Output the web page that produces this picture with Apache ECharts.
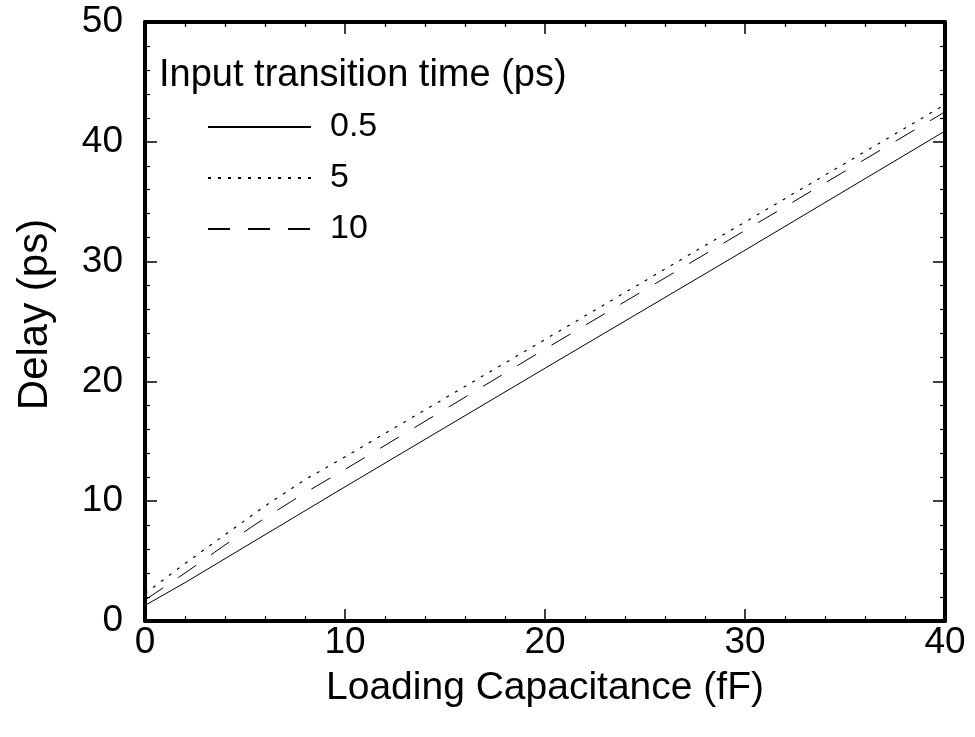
<!DOCTYPE html>
<html>
<head>
<meta charset="utf-8">
<script src="https://cdn.jsdelivr.net/npm/echarts@6/dist/echarts.min.js"></script>
<style>
  html, body { margin: 0; padding: 0; background: #fff; }
  #chart { width: 975px; height: 737px; }
</style>
</head>
<body>
<div id="chart"></div>
<script>
// loading capacitance (fF)
var capacitance = [0, 2, 4, 6, 8, 10, 20, 30, 40]
// delay (ps) for each input transition time
var delay05 = [1.3, 3.2, 5.2, 7.2, 9.2, 11.2, 21.1, 30.95, 40.9]
var delay5 = [2.3, 4.8, 7.2, 9.6, 11.8, 13.7, 23.5, 33.3, 43.1]
var delay10 = [1.75, 4.0, 6.35, 8.6, 10.7, 12.65, 22.7, 32.6, 42.5]
var seriesNames = ['0.5', '5', '10']

var font = '"Liberation Sans", Arial, sans-serif'

function pairs(ys) {
  return capacitance.map(function(x, i) { return [x, ys[i]] })
}

var chart = echarts.init(document.getElementById('chart'))

function axisBase(show) {
  return {
    type: 'value',
    axisLine: { show: true, onZero: false, lineStyle: { color: '#000', width: 4 } },
    axisTick: { show: true, inside: true, length: 12, lineStyle: { color: '#000', width: 1.5 } },
    minorTick: { show: true, splitNumber: 5, length: 5, lineStyle: { color: '#000', width: 1.2 } },
    splitLine: { show: false },
    axisLabel: { show: show, color: '#000', fontSize: 37, fontFamily: font }
  }
}

var xBottom = axisBase(true)
xBottom.min = 0; xBottom.max = 40; xBottom.interval = 10
xBottom.position = 'bottom'
xBottom.axisLabel.margin = 3
xBottom.name = 'Loading Capacitance (fF)'
xBottom.nameLocation = 'middle'
xBottom.nameGap = 48
xBottom.nameTextStyle = { color: '#000', fontSize: 39, fontFamily: font }

var xTop = axisBase(false)
xTop.min = 0; xTop.max = 40; xTop.interval = 10
xTop.position = 'top'

var yLeft = axisBase(true)
yLeft.min = 0; yLeft.max = 50; yLeft.interval = 10
yLeft.position = 'left'
yLeft.axisLabel.margin = 22
yLeft.name = 'Delay (ps)'
yLeft.nameLocation = 'middle'
yLeft.nameGap = 89
yLeft.nameTextStyle = { color: '#000', fontSize: 42, fontFamily: font, padding: [0, 0, 0, 14] }

var yRight = axisBase(false)
yRight.min = 0; yRight.max = 50; yRight.interval = 10
yRight.position = 'right'

chart.setOption({
  backgroundColor: '#fff',
  animation: false,
  title: {
    text: 'Input transition time (ps)',
    left: 159,
    top: 57,
    padding: 0,
    textStyle: { color: '#000', fontSize: 38, fontWeight: 'normal', fontFamily: font }
  },
  legend: {
    orient: 'vertical',
    left: 207,
    top: 110,
    padding: 0,
    itemWidth: 103,
    itemHeight: 24,
    itemGap: 17,
    data: seriesNames,
    itemStyle: { opacity: 0 },
    textStyle: { color: '#000', fontSize: 34, fontFamily: font, padding: [0, 0, 0, 14] }
  },
  grid: {
    left: 145,
    right: 30,
    top: 22,
    bottom: 116
  },
  xAxis: [xBottom, xTop],
  yAxis: [yLeft, yRight],
  series: [{
    name: seriesNames[0],
    type: 'line',
    data: pairs(delay05),
    symbol: 'none',
    itemStyle: { color: '#000' },
    lineStyle: { color: '#000', width: 1 }
  }, {
    name: seriesNames[1],
    type: 'line',
    data: pairs(delay5),
    symbol: 'none',
    itemStyle: { color: '#000' },
    lineStyle: { color: '#000', width: 1.2, type: [3, 7] }
  }, {
    name: seriesNames[2],
    type: 'line',
    data: pairs(delay10),
    symbol: 'none',
    itemStyle: { color: '#000' },
    lineStyle: { color: '#000', width: 1, type: [22, 18] }
  }]
})
</script>
</body>
</html>
